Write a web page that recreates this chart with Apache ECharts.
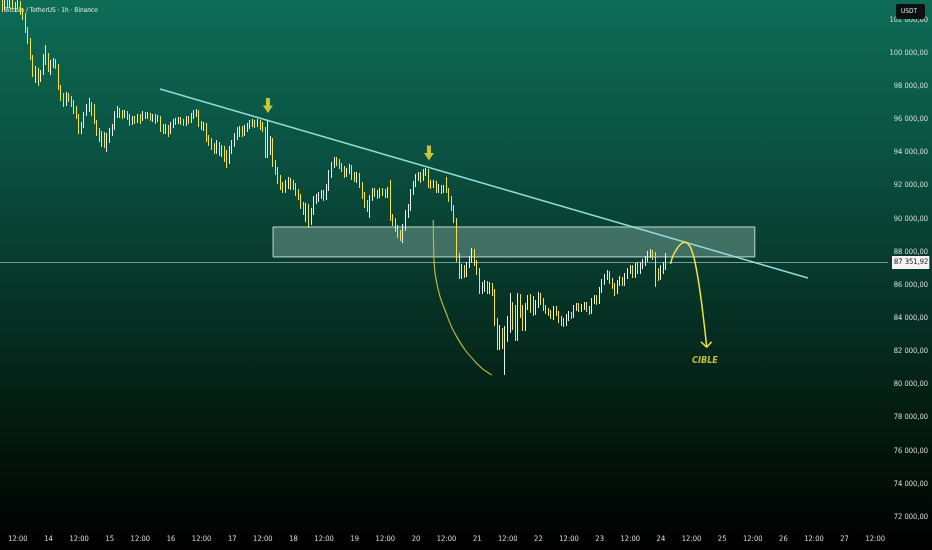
<!DOCTYPE html>
<html><head><meta charset="utf-8">
<script src="https://cdn.jsdelivr.net/npm/echarts@6/dist/echarts.min.js"></script>
<style>
html,body{margin:0;padding:0;background:#000;}
#chart{width:932px;height:550px;background:linear-gradient(to bottom,#0e6c56 0%,#0a5141 28%,#073629 52%,#03190f 78%,#000 100%);}
</style></head><body><div id="chart"></div>
<script>
// hours counted from 13 Nov 00:00 ; first candle = 13 Nov 05:00, 1h candles
const firstHour = 5;
const opens = [
102300,102900,102720,103020,102840,103080,102780,102900,102960,102480,
102170,101390,100790,99760,98670,98980,98610,98850,99700,99880,
99100,99400,99520,99220,97890,97290,96920,97410,97220,96980,
96560,96200,95350,95600,96320,96800,96920,96440,95840,95170,
94810,95050,94630,94930,95290,95530,96320,96560,96320,96260,
96380,96140,95780,96020,95900,96140,96020,96320,96200,96260,
96020,96140,95960,96080,95470,95290,95530,95230,95660,95840,
95900,95960,95840,95720,96020,95900,96200,96380,96500,95720,
95530,95660,94870,94570,94330,94150,94510,94030,94210,93660,
93540,94150,94570,94990,95290,95410,95110,95470,95600,95780,
95840,95660,95840,95600,95410,93840,94150,94750,93360,92940,
92340,91970,91730,92090,92280,92150,91970,91610,91310,90770,
90460,90770,89800,90400,91130,91250,91430,91550,91250,91850,
92640,93240,93540,93420,93180,92940,92640,92820,93120,92580,
92340,92640,92030,91370,90830,90650,91250,91670,91550,91370,
91670,91610,91430,91730,90040,89800,89380,89020,88770,89440,
90280,90650,91610,92090,92520,92640,92400,92820,92880,92090,
91970,92150,91730,91850,91670,91850,91730,91190,90650,89920,
87630,86540,87020,86780,87200,87570,88050,87330,86780,85700,
85940,86060,85640,86000,85580,83760,82380,83280,82320,83280,
83880,84850,83580,82800,85330,84190,83400,84730,85210,85090,
84370,84730,85270,84970,84610,84430,84310,84070,84550,84310,
83880,83700,83640,84010,84190,84130,84610,84730,84490,84670,
84790,84550,84370,85030,85210,84970,85700,86180,86480,86660,
86240,85940,85640,86120,86300,86120,86540,86840,87020,86600,
87140,86840,87200,87390,87570,87870,87990,87750,86780,86480,
87020,87140];
const closes = [
102900,102720,103020,102840,103080,102780,102900,102960,102480,102170,
101390,100790,99760,98670,98980,98610,98850,99700,99880,99100,
99400,99520,99220,97890,97290,96920,97410,97220,96980,96560,
96200,95350,95600,96320,96800,96920,96440,95840,95170,94810,
95050,94630,94930,95290,95530,96320,96560,96320,96260,96380,
96140,95780,96020,95900,96140,96020,96320,96200,96260,96020,
96140,95960,96080,95470,95290,95530,95230,95660,95840,95900,
95960,95840,95720,96020,95900,96200,96380,96500,95720,95530,
95660,94870,94570,94330,94150,94510,94030,94210,93660,93540,
94150,94570,94990,95290,95410,95110,95470,95600,95780,95840,
95660,95840,95600,95410,93840,94150,94750,93360,92940,92340,
91970,91730,92090,92280,92150,91970,91610,91310,90770,90460,
90770,89800,90400,91130,91250,91430,91550,91250,91850,92640,
93240,93540,93420,93180,92940,92640,92820,93120,92580,92340,
92640,92030,91370,90830,90650,91250,91670,91550,91370,91670,
91610,91430,91730,90040,89800,89380,89020,88770,89440,90280,
90650,91610,92090,92520,92640,92400,92820,92880,92090,91970,
92150,91730,91850,91670,91850,91730,91190,90650,89920,87630,
86540,87020,86780,87200,87570,88050,87330,86780,85700,85940,
86060,85640,86000,85580,83760,82380,83280,82320,83280,83880,
84850,83580,82800,85330,84190,83400,84730,85210,85090,84370,
84730,85270,84970,84610,84430,84310,84070,84550,84310,83880,
83700,83640,84010,84190,84130,84610,84730,84490,84670,84790,
84550,84370,85030,85210,84970,85700,86180,86480,86660,86240,
85940,85640,86120,86300,86120,86540,86840,87020,86600,87140,
86840,87200,87390,87570,87870,87990,87750,86780,86480,87020,
87140,87351.92];
const highs = [
103500,103200,103380,103320,103440,103200,103080,103200,103140,102720,
102420,101570,100910,99880,99220,99100,98980,99940,100480,100000,
99580,99700,99640,99340,98070,97590,97650,97590,97410,97160,
96800,96320,95840,96440,96920,97290,97040,96920,95960,95470,
95290,95230,95170,95470,95720,96500,96800,96680,96560,96560,
96500,96320,96200,96200,96320,96320,96500,96440,96440,96380,
96320,96320,96260,96200,95720,95720,95660,95840,96020,96080,
96140,96140,96020,96200,96200,96380,96560,96620,96560,95900,
95840,95780,95050,94870,94570,94750,94630,94450,94390,94150,
94390,94750,95170,95530,95600,95600,95660,95780,95960,96020,
95960,96020,95960,95840,95530,95960,94990,94870,93540,93120,
92640,92210,92340,92520,92460,92340,92150,91790,91490,91010,
90950,90890,90650,91370,91490,91610,91730,91730,92090,92940,
93420,93720,93720,93600,93360,93180,93060,93300,93240,92820,
92820,92760,92210,91610,91130,91430,91850,91850,91730,91850,
91850,91790,91910,92340,90280,90040,89620,89320,89680,90520,
90890,91790,92280,92700,92820,92820,93000,93060,93000,92340,
92340,92280,92090,92030,92030,92520,91850,91370,90830,90040,
87930,87270,87200,87390,87750,88230,88170,87510,87020,86180,
86300,86240,86180,86120,85760,84010,83580,83400,83520,84130,
85510,84970,84790,85510,85450,84790,84910,85390,85450,85330,
85090,85580,85510,85210,84790,84610,84490,84730,84730,84430,
84130,84010,84250,84430,84370,84790,84910,84910,84850,84970,
84970,84730,85210,85390,85390,85880,86360,86660,86900,86840,
86420,86120,86300,86540,86480,86720,87020,87200,87200,87330,
87390,87390,87570,87750,88050,88170,88110,87990,87020,87200,
87390,87930];
const lows = [
101990,102480,102600,102660,102720,102600,102480,102660,102300,101990,
101210,100540,99580,98550,98190,98010,98250,98670,99280,98850,
98670,99100,99040,97770,97100,96740,96800,97040,96740,96320,
96020,95110,95110,95470,96200,96440,96200,95720,94990,94630,
94330,94270,94030,94570,94990,95350,96080,96080,96020,96080,
95960,95600,95660,95720,95780,95720,95900,96020,96020,95900,
95840,95720,95840,95230,95110,95110,94930,95110,95470,95660,
95720,95660,95600,95600,95720,95780,96020,96140,95530,95350,
95290,94630,94390,94150,93910,93910,93780,93720,93420,93060,
93300,93910,94330,94750,94930,94930,94990,95230,95410,95530,
95470,95530,95350,95230,93660,93660,93840,93120,92640,92090,
91730,91550,91550,91790,91730,91730,91370,91130,90590,90220,
89800,89440,89620,90220,90890,91010,91190,91070,91130,91670,
92460,93060,93180,93000,92820,92460,92520,92700,92340,92210,
92150,91850,91190,90650,90400,90040,91070,91310,91190,91250,
91370,91250,91250,89860,89560,89200,88830,88650,88530,89260,
90040,90460,91430,91910,92280,92150,92280,92580,91850,91790,
91850,91550,91550,91490,91550,91550,91010,90460,89740,87390,
86360,86360,86420,86480,87020,87330,87140,86600,85450,85450,
85580,85450,85450,85330,83520,82070,82070,82130,80570,82560,
83100,83280,82620,82620,84010,83220,83220,84490,84310,84130,
84190,84610,84790,84430,84250,84130,83950,83880,84130,83700,
83520,83460,83520,83820,83950,84010,84430,84370,84370,84490,
84370,84190,84250,84850,84790,84850,85510,86000,86300,86060,
85760,85330,85450,85940,85940,85940,86360,86660,86420,86420,
86660,86660,86960,87140,87390,87630,87510,85880,86240,86300,
86660,86900];
const lastPrice = 87351.92;

// axis ticks
const tickHours = [12,24,36,48,60,72,84,96,108,120,132,144,156,168,180,192,204,216,228,240,252,264,276,288,300,312,324,336,348];
const tickLabels = ['12:00','14','12:00','15','12:00','16','12:00','17','12:00','18','12:00','19','12:00','20','12:00','21','12:00','22','12:00','23','12:00','24','12:00','25','12:00','26','12:00','27','12:00'];
const priceTicks = [72000,74000,76000,78000,80000,82000,84000,86000,88000,90000,92000,94000,96000,98000,100000,102000];

// drawings (hour, price)
const trendLine = [[67.7,97830],[321.6,86420]];
const zone = {start:112.0, end:300.8, top:89500, bottom:87690};
const arrowMarks = [[110.0,96830],[173.1,93965]];
const arcPath = [[174.79,89921],[175.06,87506],[176.75,85696],[179.37,84488],[183.96,82877],[191.80,81271],[197.67,80565]];
const projPath = [[267.81,87265],[268.72,87748],[270.28,88170],[271.85,88472],[273.42,88575],[274.98,88412],[276.16,88050],[277.34,87386],[278.51,86420],[279.69,85213],[280.67,84005],[281.45,82979],[281.92,82273]];
const arrowHead = [[279.69,82575],[281.92,82237],[283.88,82575]];
const targetText = [[281.26,81410]];

const FONT = "'Liberation Sans Narrow','Arial Narrow','DejaVu Sans Condensed',sans-serif";
function frPrice(v){
  const s = Number(v).toFixed(2); const p = s.split('.');
  return p[0].replace(/\B(?=(\d{3})+(?!\d))/g,' ') + ',' + p[1];
}
const candleData = opens.map((o,i)=>[firstHour+i, o, closes[i], lows[i], highs[i]]);
const YEL = '#f4e43c', WHT = '#e6f2ee';

const chart = echarts.init(document.getElementById('chart'), null, {renderer:'canvas'});
chart.setOption({
  animation:false,
  backgroundColor:'transparent',
  textStyle:{fontFamily:FONT},
  grid:{left:0, top:0, width:888, height:550, containLabel:false, outerBoundsMode:'none'},
  xAxis:{type:'value', min:5, max:353,
    axisLine:{show:false}, axisTick:{show:false}, splitLine:{show:false},
    axisLabel:{customValues:tickHours, color:'#d9dedc', fontSize:7.5, fontFamily:FONT, margin:-15,
      formatter:(v)=>{const k=tickHours.indexOf(Math.round(v)); return k>=0?tickLabels[k]:'';}}},
  yAxis:{type:'value', position:'right', min:70000, max:103200, scale:true,
    axisLine:{show:false}, axisTick:{show:false}, splitLine:{show:false},
    axisLabel:{customValues:priceTicks, color:'#d9dedc', fontSize:7.5, fontFamily:FONT, margin:40, align:'right',
      formatter:(v)=>frPrice(v)}},
  graphic:[
    {type:'text', left:4, top:7, z:1, style:{text:'Bitcoin / TetherUS · 1h · Binance', fill:'#e4ebe8', fontSize:6.5, fontFamily:FONT}},
    {type:'rect', z:100, shape:{x:896,y:4,width:29,height:15,r:2}, style:{fill:'#0c100f'}},
    {type:'text', z:101, x:901, y:7.5, style:{text:'USDT', fill:'#e6e6e6', fontSize:6.5, fontFamily:FONT}}
  ],
  series:[
    {type:'candlestick', data:candleData, encode:{x:0,y:[1,2,3,4]}, barWidth:1.2, z:2,
     itemStyle:{color:WHT, color0:YEL, borderColor:WHT, borderColor0:YEL, borderWidth:1},
     markLine:{silent:true, symbol:'none', animation:false,
       lineStyle:{color:'rgba(200,218,212,0.6)', width:1, type:'solid'},
       label:{show:true, position:'end', distance:4, formatter:()=>frPrice(lastPrice), color:'#111',
         backgroundColor:'#f4f4f4', padding:[3,1,2,2], fontSize:7.5, fontFamily:FONT},
       data:[{yAxis:lastPrice}]}},
    {type:'line', data:trendLine, z:4, symbol:'none', lineStyle:{color:'#8fdcda', width:1.5},
     markArea:{silent:true, itemStyle:{color:'rgba(215,240,232,0.28)', borderColor:'rgba(225,242,236,0.85)', borderWidth:1},
       data:[[{coord:[zone.start, zone.top]},{coord:[zone.end, zone.bottom]}]]}},
    {type:'line', data:arcPath, smooth:true, z:4, symbol:'none', lineStyle:{color:'#bdb43e', width:1.2}},
    {type:'line', data:projPath, smooth:true, z:4, symbol:'none', lineStyle:{color:YEL, width:1.5}},
    {type:'line', data:arrowHead, z:4, symbol:'none', lineStyle:{color:YEL, width:1.5}},
    {type:'scatter', data:arrowMarks, z:5, symbol:'path://M3,0L7,0L7,7L10,7L5,14L0,7L3,7Z', symbolSize:[10,15],
     itemStyle:{color:'#f7e232'}},
    {type:'scatter', data:targetText, z:5, symbolSize:0,
     label:{show:true, position:'inside', formatter:'CIBLE', color:YEL, fontSize:9, fontWeight:'bold', fontStyle:'italic', fontFamily:FONT}}
  ]
});
</script></body></html>
